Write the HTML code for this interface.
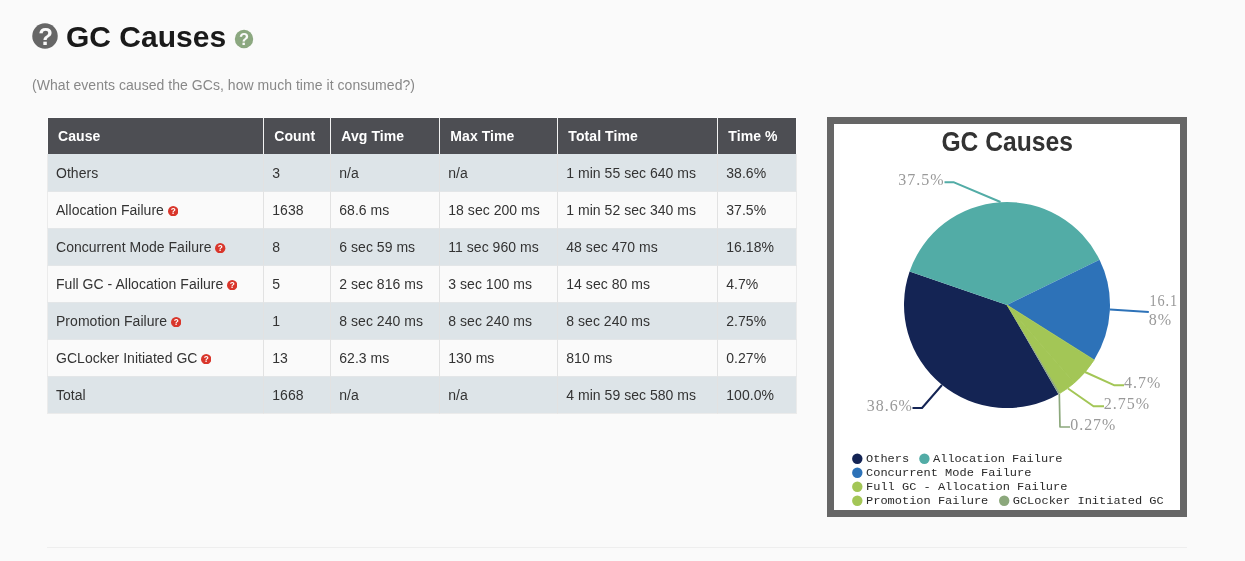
<!DOCTYPE html>
<html><head><meta charset="utf-8"><title>GC Causes</title>
<style>
html,body{margin:0;padding:0;}
body{width:1245px;height:561px;background:#fafafa;position:relative;overflow:hidden;font-family:"Liberation Sans",Arial,sans-serif;color:#333;}
.hicon{position:absolute;left:32px;top:23.2px;width:26px;height:26px;}
h1{position:absolute;left:66px;top:19px;margin:0;font-size:30px;line-height:36px;font-weight:bold;color:#1a1a1a;white-space:nowrap;}
.gicon{position:absolute;left:233.7px;top:29.4px;width:20px;height:20px;}
.sub{position:absolute;left:32px;top:76px;margin:0;font-size:14px;line-height:18px;color:#888;white-space:nowrap;letter-spacing:0.045px;}
table{position:absolute;left:47px;top:117px;width:750px;border-collapse:separate;border-spacing:0;table-layout:fixed;font-size:14px;}
th{background:#4d4e53;color:#fff;font-weight:bold;text-align:left;height:37px;padding:0 0 0 10.3px;border-left:1px solid #f2f2f2;border-top:1px solid #fdfdfd;box-sizing:border-box;letter-spacing:0.08px;background-clip:padding-box;}
th:first-child{border-left:1px solid #fdfdfd;padding-left:10px;}
th:last-child{border-right:1px solid #fdfdfd;}
td{height:37px;padding:0 0 0 8.3px;border-left:1px solid #e2e2e2;border-top:1px solid #e3e6e8;box-sizing:border-box;color:#333;white-space:nowrap;letter-spacing:0.03px;}
td:first-child{border-left:1px solid #ebebeb;padding-left:8px;}
td:last-child{border-right:1px solid #ebebeb;}
tr.r0 td{border-top:none;}
tr.last td{border-bottom:1px solid #ebebeb;height:38px;}
tr.odd td{background:#dde4e8;}
tr.even td{background:#fafafa;}
.qi{vertical-align:-1px;margin-left:-0.3px;}
.chart{position:absolute;left:827px;top:117px;width:360px;height:400px;background:#fff;border:7px solid #666;box-sizing:border-box;}
.chart svg{position:absolute;left:-7px;top:-7px;}
.hr{position:absolute;left:47px;top:547px;width:1140px;height:1px;background:#eee;}
</style></head><body>
<svg class="hicon" viewBox="0 0 26 26"><circle cx="13" cy="13" r="12.75" fill="#666"/><text x="13.5" y="21.6" text-anchor="middle" font-family="Liberation Sans, sans-serif" font-weight="bold" font-size="24" fill="#fafafa">?</text></svg>
<h1>GC Causes</h1>
<svg class="gicon" viewBox="0 0 20 20"><defs><pattern id="dots" width="2.6" height="3.4" patternUnits="userSpaceOnUse"><circle cx="0.65" cy="0.85" r="0.42" fill="#8a8398"/><circle cx="1.95" cy="2.55" r="0.42" fill="#8a8398"/></pattern></defs><circle cx="10" cy="10" r="9.2" fill="#8bab7d"/><circle cx="10" cy="10" r="9.2" fill="url(#dots)"/><text x="10" y="15.9" text-anchor="middle" font-family="Liberation Sans, sans-serif" font-weight="bold" font-size="16.5" fill="#fafafa">?</text></svg>
<p class="sub">(What events caused the GCs, how much time it consumed?)</p>
<table>
<colgroup><col style="width:216px"><col style="width:67px"><col style="width:109px"><col style="width:118px"><col style="width:160px"><col style="width:80px"></colgroup>
<tr><th>Cause</th><th>Count</th><th>Avg Time</th><th>Max Time</th><th>Total Time</th><th>Time %</th></tr>
<tr class="odd r0"><td>Others</td><td>3</td><td>n/a</td><td>n/a</td><td>1 min 55 sec 640 ms</td><td>38.6%</td></tr>
<tr class="even"><td>Allocation Failure <svg class="qi" viewBox="0 0 12 12" width="10.4" height="10.4"><circle cx="6" cy="6" r="6" fill="#d9362b"/><text x="6" y="9.6" text-anchor="middle" font-family="Liberation Sans, sans-serif" font-weight="bold" font-size="9.5" fill="#fff">?</text></svg></td><td>1638</td><td>68.6 ms</td><td>18 sec 200 ms</td><td>1 min 52 sec 340 ms</td><td>37.5%</td></tr>
<tr class="odd"><td>Concurrent Mode Failure <svg class="qi" viewBox="0 0 12 12" width="10.4" height="10.4"><circle cx="6" cy="6" r="6" fill="#d9362b"/><text x="6" y="9.6" text-anchor="middle" font-family="Liberation Sans, sans-serif" font-weight="bold" font-size="9.5" fill="#fff">?</text></svg></td><td>8</td><td>6 sec 59 ms</td><td>11 sec 960 ms</td><td>48 sec 470 ms</td><td>16.18%</td></tr>
<tr class="even"><td>Full GC - Allocation Failure <svg class="qi" viewBox="0 0 12 12" width="10.4" height="10.4"><circle cx="6" cy="6" r="6" fill="#d9362b"/><text x="6" y="9.6" text-anchor="middle" font-family="Liberation Sans, sans-serif" font-weight="bold" font-size="9.5" fill="#fff">?</text></svg></td><td>5</td><td>2 sec 816 ms</td><td>3 sec 100 ms</td><td>14 sec 80 ms</td><td>4.7%</td></tr>
<tr class="odd"><td>Promotion Failure <svg class="qi" viewBox="0 0 12 12" width="10.4" height="10.4"><circle cx="6" cy="6" r="6" fill="#d9362b"/><text x="6" y="9.6" text-anchor="middle" font-family="Liberation Sans, sans-serif" font-weight="bold" font-size="9.5" fill="#fff">?</text></svg></td><td>1</td><td>8 sec 240 ms</td><td>8 sec 240 ms</td><td>8 sec 240 ms</td><td>2.75%</td></tr>
<tr class="even"><td>GCLocker Initiated GC <svg class="qi" viewBox="0 0 12 12" width="10.4" height="10.4"><circle cx="6" cy="6" r="6" fill="#d9362b"/><text x="6" y="9.6" text-anchor="middle" font-family="Liberation Sans, sans-serif" font-weight="bold" font-size="9.5" fill="#fff">?</text></svg></td><td>13</td><td>62.3 ms</td><td>130 ms</td><td>810 ms</td><td>0.27%</td></tr>
<tr class="odd last"><td>Total</td><td>1668</td><td>n/a</td><td>n/a</td><td>4 min 59 sec 580 ms</td><td>100.0%</td></tr>
</table>
<div class="chart">
<svg width="360" height="400" viewBox="0 0 360 400">
<text x="180.2" y="33.6" text-anchor="middle" font-family="Liberation Sans, sans-serif" font-weight="bold" font-size="28" fill="#333" textLength="131.5" lengthAdjust="spacingAndGlyphs">GC Causes</text>
<path d="M180,188 L231.50,277.20 A103,103 0 0 1 82.59,154.53 Z" fill="#142454" stroke="#142454" stroke-width="0" stroke-linejoin="round"/>
<path d="M180,188 L82.59,154.53 A103,103 0 0 1 272.54,142.78 Z" fill="#52aca6" stroke="#52aca6" stroke-width="0" stroke-linejoin="round"/>
<path d="M180,188 L272.54,142.78 A103,103 0 0 1 267.15,242.90 Z" fill="#2d72b8" stroke="#2d72b8" stroke-width="0" stroke-linejoin="round"/>
<path d="M180,188 L267.15,242.90 A103,103 0 0 1 247.40,265.89 Z" fill="#a3c656" stroke="#a3c656" stroke-width="0.8" stroke-linejoin="round"/>
<path d="M180,188 L247.40,265.89 A103,103 0 0 1 233.01,276.31 Z" fill="#a3c656" stroke="#a3c656" stroke-width="0.8" stroke-linejoin="round"/>
<path d="M180,188 L233.01,276.31 A103,103 0 0 1 231.50,277.20 Z" fill="#8ca87c" stroke="#8ca87c" stroke-width="0" stroke-linejoin="round"/>

<g fill="none" stroke-width="2" stroke-linejoin="round">
<path d="M117.5,65.3 L127,65.3 L173.5,85" stroke="#52aca6"/>
<path d="M283,192.6 L321.8,195" stroke="#2d72b8"/>
<path d="M258,255 L287,268.2 L297,268.2" stroke="#a3c656"/>
<path d="M241,271.5 L266.5,289.3 L277,289.3" stroke="#a3c656"/>
<path d="M232.3,277 L233,310 L243,310" stroke="#8ca87c" stroke-width="1.7"/>
<path d="M115,268 L95,291 L85.5,291" stroke="#142454"/>
</g>
<g font-family="Liberation Serif, serif" font-size="16.6" fill="#999" letter-spacing="1">
<text x="71.3" y="68.3" textLength="46.2" lengthAdjust="spacingAndGlyphs">37.5%</text>
<text x="322.5" y="188.8" textLength="28.5" lengthAdjust="spacingAndGlyphs">16.1</text>
<text x="321.7" y="208" textLength="23.4" lengthAdjust="spacingAndGlyphs">8%</text>
<text x="297.1" y="271.2" textLength="37.2" lengthAdjust="spacingAndGlyphs">4.7%</text>
<text x="276.8" y="292.3" textLength="46.3" lengthAdjust="spacingAndGlyphs">2.75%</text>
<text x="243.3" y="313.3" textLength="46.0" lengthAdjust="spacingAndGlyphs">0.27%</text>
<text x="39.8" y="294.4" textLength="46.1" lengthAdjust="spacingAndGlyphs">38.6%</text>
</g>
<g>
<circle cx="30.3" cy="341.8" r="5.2" fill="#142454"/><circle cx="97.4" cy="341.8" r="5.2" fill="#52aca6"/>
<circle cx="30.3" cy="355.8" r="5.2" fill="#2d72b8"/>
<circle cx="30.3" cy="369.8" r="5.2" fill="#a3c656"/>
<circle cx="30.3" cy="383.8" r="5.2" fill="#a3c656"/><circle cx="177.2" cy="383.8" r="5.2" fill="#8ca87c"/>
</g>
<g font-family="Liberation Mono, monospace" font-size="12" fill="#2a2a2a" transform="scale(1,0.87)">
<text x="39" y="396.55">Others</text><text x="106" y="396.55">Allocation Failure</text>
<text x="39" y="412.64">Concurrent Mode Failure</text>
<text x="39" y="428.74">Full GC - Allocation Failure</text>
<text x="39" y="444.83">Promotion Failure</text><text x="185.7" y="444.83">GCLocker Initiated GC</text>
</g>
</svg>
</div>
<div class="hr"></div>
</body></html>
